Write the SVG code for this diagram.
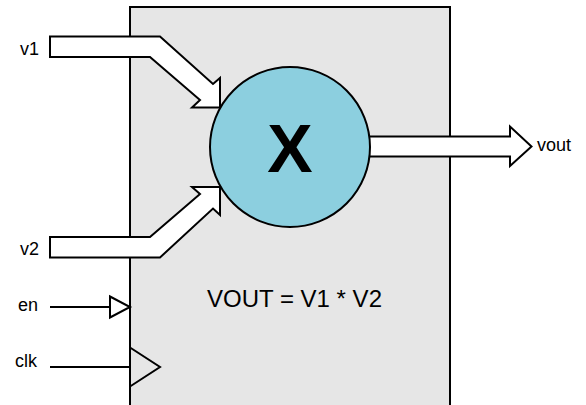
<svg xmlns="http://www.w3.org/2000/svg" width="586" height="405" viewBox="0 0 586 405">
<style>
.lbl{font-family:"Liberation Sans",Arial,sans-serif;font-size:18px;fill:#000}
.arrow{fill:#fff;stroke:#000;stroke-width:2;stroke-linejoin:miter}
</style>
<rect width="586" height="405" fill="#fff"/>
<g id="block">
<rect x="130" y="7" width="320" height="410" fill="#e6e6e6" stroke="#000" stroke-width="2"/>
<text class="lbl" x="207" y="306.5" style="font-size:24px">VOUT = V1 * V2</text>
</g>
<g id="connectors">
<polygon class="arrow" points="50,36.5 160,36.5 213,84 220,78 220,107.5 192,107.5 200,100 150,57 50,57"/>
<polygon class="arrow" points="50,237 150,237 200,194 192,187 220,187 220,215 213,208.5 160,257.5 50,257.5"/>
<polygon class="arrow" points="368,136.5 510,136.5 510,126.5 531.5,146.5 510,166 510,156.5 368,156.5"/>
<line x1="50" y1="307" x2="110" y2="307" stroke="#000" stroke-width="2"/>
<polygon points="110,296.5 130,307 110,317.5" fill="none" stroke="#000" stroke-width="2"/>
<line x1="50" y1="367" x2="130" y2="367" stroke="#000" stroke-width="2"/>
<polygon points="130,347.5 160,367 130,386.5" fill="none" stroke="#000" stroke-width="2"/>
</g>
<g id="multiplier">
<circle cx="290" cy="147" r="80" fill="#8ccfdf" stroke="#000" stroke-width="2"/>
<text class="lbl" x="290" y="171.5" text-anchor="middle" style="font-size:68px;font-weight:bold">X</text>
</g>
<g id="port-v1"><text class="lbl" x="39" y="55" text-anchor="end">v1</text></g>
<g id="port-v2"><text class="lbl" x="39" y="255" text-anchor="end">v2</text></g>
<g id="port-en"><text class="lbl" x="38" y="311" text-anchor="end">en</text></g>
<g id="port-clk"><text class="lbl" x="37" y="367" text-anchor="end">clk</text></g>
<g id="port-vout"><text class="lbl" x="537" y="151">vout</text></g>
</svg>
